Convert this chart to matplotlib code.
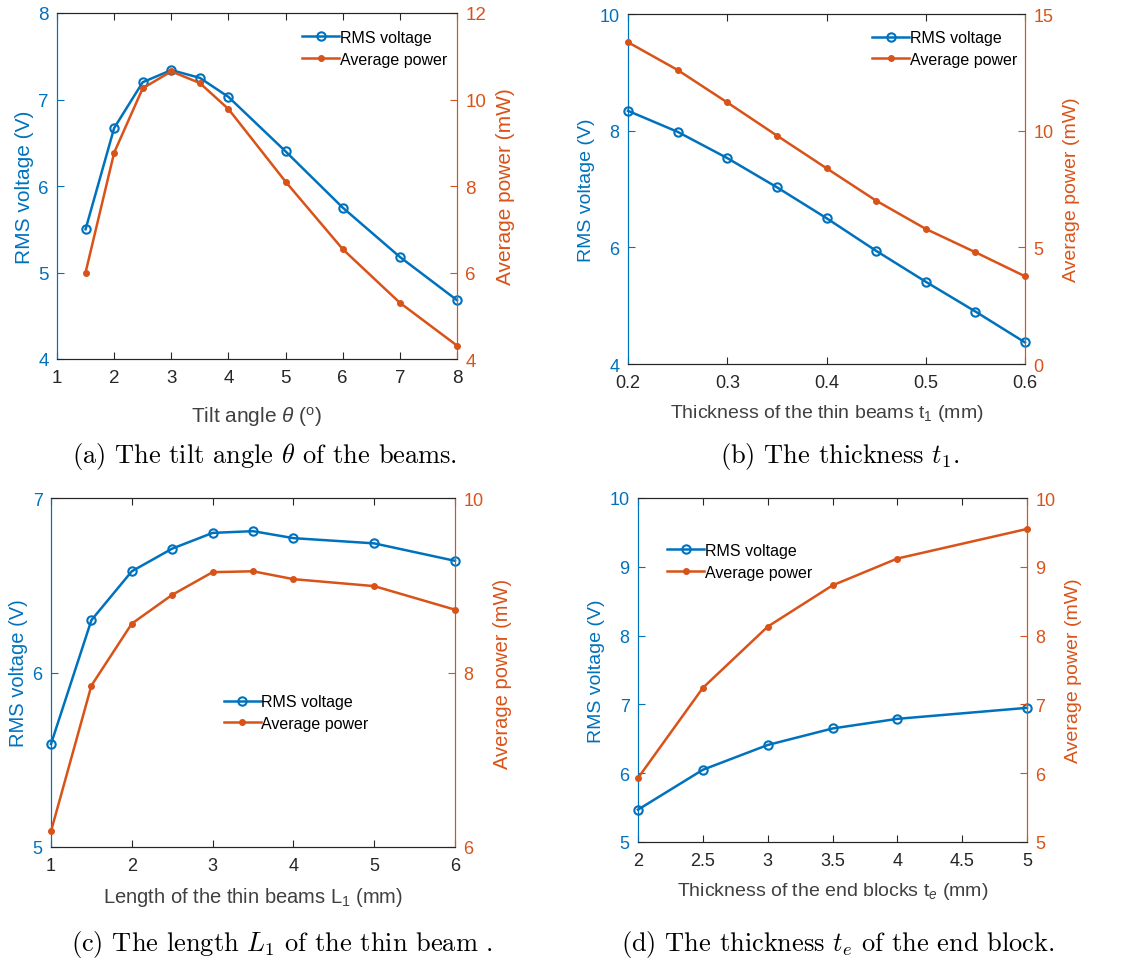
import matplotlib
matplotlib.use("Agg")
import matplotlib.pyplot as plt

plt.rcParams["font.family"] = ["Liberation Sans", "DejaVu Sans"]
plt.rcParams["mathtext.fontset"] = "custom"
plt.rcParams["mathtext.rm"] = "Liberation Sans"
plt.rcParams["mathtext.it"] = "Liberation Sans:italic"

BLUE = "#0072BD"
ORANGE = "#D95319"
DARK = "#262626"

# (a) tilt angle
tilt_x = [1.5, 2, 2.5, 3, 3.5, 4, 5, 6, 7, 8]
tilt_v = [5.50, 6.67, 7.20, 7.34, 7.25, 7.03, 6.40, 5.75, 5.18, 4.68]
tilt_p = [6.00, 8.77, 10.26, 10.65, 10.38, 9.78, 8.10, 6.54, 5.30, 4.31]

# (b) thickness t1
t1_x = [0.2, 0.25, 0.3, 0.35, 0.4, 0.45, 0.5, 0.55, 0.6]
t1_v = [8.34, 7.98, 7.53, 7.03, 6.50, 5.94, 5.41, 4.90, 4.37]
t1_p = [13.79, 12.60, 11.21, 9.79, 8.39, 7.00, 5.79, 4.79, 3.76]

# (c) length L1
l1_x = [1, 1.5, 2, 2.5, 3, 3.5, 4, 5, 6]
l1_v = [5.59, 6.30, 6.58, 6.71, 6.80, 6.81, 6.77, 6.74, 6.64]
l1_p = [6.18, 7.85, 8.56, 8.89, 9.15, 9.16, 9.07, 8.99, 8.72]

# (d) end block thickness te
te_x = [2, 2.5, 3, 3.5, 4, 5]
te_v = [5.47, 6.05, 6.41, 6.65, 6.79, 6.95]
te_p = [5.93, 7.24, 8.13, 8.73, 9.12, 9.55]


def draw_panel(fig, rect, x, v, p, xlim, xticks, vlim, vticks, plim, pticks,
               xlabel, caption, cap_xy, leg_xy, fs_tick=13, fs_label=14,
               xlabel_pad=6):
    ax = fig.add_axes(rect)
    ax2 = ax.twinx()

    l1, = ax.plot(x, v, color=BLUE, lw=1.8, marker="o", ms=6, mfc="none",
                  mew=1.5, clip_on=False, zorder=3, label="RMS voltage")
    l2, = ax2.plot(x, p, color=ORANGE, lw=1.8, marker="o", ms=4,
                   clip_on=False, zorder=3, label="Average power")

    ax.set_xlim(*xlim)
    ax.set_xticks(xticks)
    ax.set_xticklabels([f"{t:g}" for t in xticks])
    ax.set_ylim(*vlim)
    ax.set_yticks(vticks)
    ax2.set_ylim(*plim)
    ax2.set_yticks(pticks)

    for a in (ax, ax2):
        a.spines["top"].set_color(DARK)
        a.spines["bottom"].set_color(DARK)
        a.spines["left"].set_color(BLUE)
        a.spines["right"].set_color(ORANGE)
        for s in a.spines.values():
            s.set_linewidth(0.8)
    ax.tick_params(axis="x", direction="in", top=True, length=5, width=0.8,
                   colors=DARK, labelsize=fs_tick, pad=7)
    ax.tick_params(axis="y", direction="in", length=5, width=0.8,
                   colors=BLUE, labelsize=fs_tick, pad=6)
    ax2.tick_params(axis="y", direction="in", length=5, width=0.8,
                    colors=ORANGE, labelsize=fs_tick, pad=6)

    ax.set_xlabel(xlabel, fontsize=fs_label, color="#404040", labelpad=xlabel_pad)
    ax.set_ylabel("RMS voltage (V)", fontsize=fs_label, color=BLUE, labelpad=3)
    ax2.set_ylabel("Average power (mW)", fontsize=fs_label, color=ORANGE,
                   labelpad=7)

    ax2.legend([l1, l2], ["RMS voltage", "Average power"], loc="upper left",
               bbox_to_anchor=leg_xy, frameon=False, fontsize=11.5,
               handlelength=2.3, handletextpad=0.05, borderpad=0,
               borderaxespad=0, labelspacing=0.42)

    fig.text(cap_xy[0], cap_xy[1], caption, ha="center", va="center",
             fontsize=19, family="cmr10", math_fontfamily="cm")
    return ax, ax2


W, H = 1143, 962
fig = plt.figure(figsize=(W / 100, H / 100), dpi=100)


def rect(l, r, t, b):
    return [l / W, (H - b) / H, (r - l) / W, (b - t) / H]


draw_panel(fig, rect(57, 457, 14, 360), tilt_x, tilt_v, tilt_p,
           (1, 8), [1, 2, 3, 4, 5, 6, 7, 8], (4, 8), [4, 5, 6, 7, 8],
           (4, 12), [4, 6, 8, 10, 12],
           r"Tilt angle $\theta$ ($^{\rm o}$)",
           r"(a) The tilt angle $\theta$ of the beams.",
           (265 / W, 1 - 457 / H), (0.613, 0.951),
           fs_tick=13.5, fs_label=15, xlabel_pad=13)

draw_panel(fig, rect(628, 1025, 15, 365), t1_x, t1_v, t1_p,
           (0.2, 0.6), [0.2, 0.3, 0.4, 0.5, 0.6], (4, 10), [4, 6, 8, 10],
           (0, 15), [0, 5, 10, 15],
           r"Thickness of the thin beams t$_1$ (mm)",
           r"(b) The thickness $t_1$.",
           (840 / W, 1 - 457 / H), (0.615, 0.954),
           fs_tick=13, fs_label=14, xlabel_pad=8)

draw_panel(fig, rect(51, 455, 499, 848), l1_x, l1_v, l1_p,
           (1, 6), [1, 2, 3, 4, 5, 6], (5, 7), [5, 6, 7],
           (6, 10), [6, 8, 10],
           r"Length of the thin beams L$_1$ (mm)",
           r"(c) The length $L_1$ of the thin beam .",
           (282 / W, 1 - 945 / H), (0.428, 0.438),
           fs_tick=13, fs_label=14.5, xlabel_pad=8)

draw_panel(fig, rect(638, 1027, 499, 843), te_x, te_v, te_p,
           (2, 5), [2, 2.5, 3, 3.5, 4, 4.5, 5], (5, 10), [5, 6, 7, 8, 9, 10],
           (5, 10), [5, 6, 7, 8, 9, 10],
           r"Thickness of the end blocks t$_e$ (mm)",
           r"(d) The thickness $t_e$ of the end block.",
           (838 / W, 1 - 945 / H), (0.075, 0.869),
           fs_tick=13, fs_label=14, xlabel_pad=8)

fig.savefig("out.png", dpi=100)
